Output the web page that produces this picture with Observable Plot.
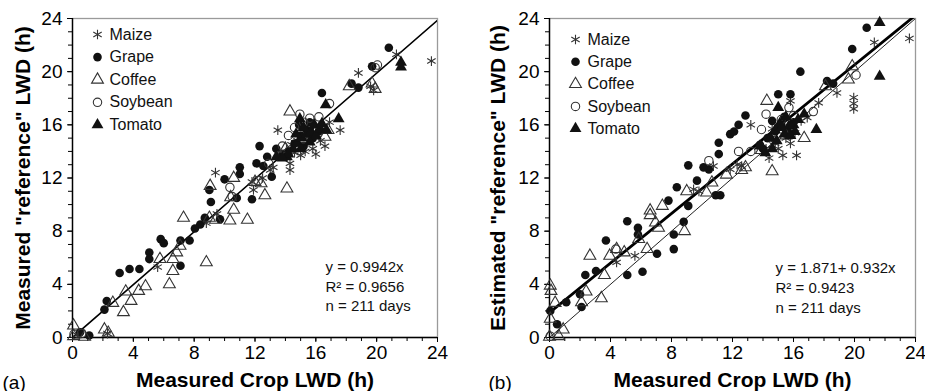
<!DOCTYPE html>
<html><head><meta charset="utf-8">
<script src="https://cdn.jsdelivr.net/npm/d3@7"></script>
<script src="https://cdn.jsdelivr.net/npm/@observablehq/plot@0.6"></script>
<style>
body{margin:0;background:#fff;}
#wrap{position:relative;width:925px;height:391px;overflow:hidden;}
#wrap svg{position:absolute;top:0;}
</style></head><body><div id="wrap"></div>
<script>
// ---------- data ----------
const crops = ["Maize", "Grape", "Coffee", "Soybean", "Tomato"];
const majorTicks = [0, 4, 8, 12, 16, 20, 24];
const minorTicks = d3.range(0, 25, 1);

// Panel (a): measured crop LWD vs measured "reference" LWD
const aMaize = [[23.6,20.8],[21.3,21.3],[18.8,19.9],[19.6,18.9],[19.8,18.6],[17.6,15.6],[16.9,16.2],[13.5,15.6],[9.4,12.4],[5.6,5.3],[14.3,12.6],[14.3,13.1],[13.2,12.8],[13.0,12.6],[16.0,13.8],[15.8,14.2],[16.6,14.4],[16.3,14.8],[15.3,14.0],[15.0,13.7],[14.6,13.9],[14.4,14.5],[11.8,11.7],[11.9,11.1],[9.5,9.3],[15.5,15.1],[16.2,15.9],[14.8,14.8],[12.5,12.0],[8.8,8.6],[2.3,0.3],[0.3,0.2]];
const aGrape = [[20.8,21.8],[19.7,20.4],[18.35,19.1],[18.8,18.8],[16.4,18.4],[12.3,14.4],[12.1,13.1],[12.55,12.9],[13.1,12.1],[13.4,14.2],[12.8,13.6],[11.0,12.8],[11.0,12.3],[10.8,10.5],[11.8,10.4],[10.0,11.9],[9.0,11.1],[9.1,10.2],[9.7,8.9],[8.7,9.0],[8.4,8.5],[8.05,8.2],[7.7,7.3],[7.1,7.3],[5.8,7.4],[6.0,7.1],[5.05,6.4],[5.05,5.9],[7.1,5.4],[3.1,4.85],[3.75,5.15],[4.4,5.15],[2.25,2.75],[2.1,2.1],[1.1,0.15],[0.5,0.4],[14.6,14.6],[15.0,15.2],[15.4,15.6],[15.8,15.0],[14.2,14.0],[13.8,13.8],[16.2,15.5],[15.2,14.4],[14.9,16.0],[15.6,16.2]];
const aCoffee = [[19.9,18.7],[19.7,19.1],[18.2,18.9],[14.3,17.0],[14.1,11.2],[16.6,15.1],[16.8,15.6],[12.65,10.7],[12.4,11.6],[11.5,8.85],[10.35,8.8],[10.6,9.6],[10.4,10.55],[10.6,12.0],[9.05,11.4],[9.4,8.85],[7.3,9.0],[8.8,5.65],[7.07,6.9],[6.85,6.4],[6.6,5.9],[6.6,5.0],[6.37,4.0],[5.75,5.9],[4.8,3.85],[4.35,3.5],[3.85,2.75],[3.5,3.45],[3.35,1.9],[2.65,2.6],[2.1,0.6],[2.35,0.35],[0.07,0.9],[0.07,0.1],[0.8,0.05],[15.2,14.9],[14.0,14.2],[9.0,9.0],[12.0,11.7]];
const aSoybean = [[20.05,20.5],[19.9,20.3],[16.9,17.6],[14.2,15.2],[15.6,16.5],[13.6,13.7],[12.9,13.1],[12.2,11.8],[10.35,11.3],[10.5,10.6],[0.1,0.25],[0.6,0.3],[14.95,16.8],[16.2,16.6],[13.8,14.4],[15.2,16.2],[14.6,15.8]];
const aTomato = [[21.6,20.7],[21.6,20.35],[16.65,17.5],[17.5,16.45],[14.95,16.45],[14.1,13.6],[13.4,13.6],[14.5,14.2],[14.8,14.6],[15.1,15.0],[15.4,15.3],[15.7,15.5],[16.0,15.2],[15.2,15.8],[15.6,14.7],[16.3,15.7],[14.2,13.8],[13.8,13.5],[16.7,15.6],[15.0,14.2],[14.7,15.3],[15.9,16.0],[16.4,16.1]];

// Panel (b): measured crop LWD vs estimated "reference" LWD
const bMaize = [[23.6,22.5],[21.3,22.2],[19.95,18.05],[19.95,17.2],[19.95,17.6],[18.85,18.4],[17.65,17.65],[16.9,16.55],[13.2,16.0],[16.2,13.7],[15.3,13.7],[14.4,13.5],[9.45,11.15],[11.85,12.65],[12.3,13.0],[5.6,6.15],[4.4,5.65],[10.75,12.9],[14.8,14.6],[15.5,15.0],[16.1,15.4],[14.2,14.2],[15.8,14.6],[15.0,14.2],[9.8,11.0],[12.6,12.9],[14.6,15.7],[16.5,16.3],[15.8,17.8]];
const bGrape = [[20.8,23.3],[19.85,21.7],[16.45,20.0],[15.0,18.3],[15.8,18.3],[18.2,19.3],[12.85,16.7],[12.4,16.0],[11.85,15.3],[12.1,15.5],[11.1,14.65],[11.1,13.8],[10.45,12.65],[10.1,12.8],[9.1,12.95],[9.67,11.8],[10.9,10.7],[11.2,10.7],[8.35,11.3],[7.8,10.3],[9.1,9.9],[8.8,8.7],[8.15,7.75],[8.15,6.65],[7.05,6.3],[5.8,8.25],[5.8,7.75],[5.1,8.75],[3.7,7.3],[3.05,5.0],[2.35,4.7],[2.0,3.25],[2.1,2.3],[1.1,2.65],[5.1,4.7],[6.1,4.95],[0.05,2.0],[0.5,1.0],[14.3,15.0],[14.8,15.5],[15.2,16.0],[15.6,15.6],[14.0,14.2],[13.8,14.5],[16.0,16.2],[15.4,16.6],[14.6,16.3],[18.6,19.1]];
const bCoffee = [[19.85,20.4],[19.6,19.4],[18.1,18.9],[14.25,17.8],[16.7,15.0],[14.6,12.5],[12.85,12.8],[12.6,12.6],[11.6,12.25],[10.65,11.65],[10.3,10.9],[7.4,9.9],[6.6,9.55],[6.6,9.2],[6.95,8.65],[7.15,8.25],[8.85,8.0],[5.85,7.4],[6.4,6.65],[2.65,6.15],[3.95,6.15],[4.4,6.65],[4.9,6.4],[3.6,4.7],[2.4,3.45],[2.1,2.65],[3.4,2.95],[0.37,2.6],[0.05,3.9],[0.1,3.5],[0.05,1.4],[0.6,0.1],[0.9,0.6],[0.0,0.05],[9.0,11.0],[15.5,15.2],[13.9,14.1]];
const bSoybean = [[20.1,19.75],[17.3,17.0],[15.7,17.3],[14.2,16.8],[13.9,15.65],[14.7,14.8],[10.45,13.3],[12.4,14.0],[13.2,14.0],[4.35,6.65],[0.05,0.1],[15.2,16.4],[16.0,16.7]];
const bTomato = [[21.65,23.7],[21.65,19.65],[17.5,15.65],[15.0,17.3],[16.7,16.8],[14.5,15.0],[14.8,15.6],[15.1,16.1],[15.4,15.3],[15.7,15.9],[16.0,16.0],[16.3,16.4],[15.2,15.8],[14.9,14.8],[15.5,16.6],[14.15,13.9],[13.8,14.4],[16.1,15.5],[15.8,15.2],[14.6,14.2]];

// fitted lines: [intercept, slope]
const aFit = [0, 0.9942];
const bFit = [1.871, 0.932];
const oneToOne = [0, 1];
const lineX = [0, 24];

const aStats = ["y = 0.9942x", "R\u00b2 = 0.9656", "n = 211 days"];
const bStats = ["y = 1.871+ 0.932x", "R\u00b2 = 0.9423", "n = 211 days"];

// ---------- styles ----------
const styleOf = {
  Maize:   {symbol: "asterisk", fill: "none", stroke: "#333", strokeWidth: 1.1, r: 4.6},
  Grape:   {symbol: "circle",   fill: "#111", stroke: "none", r: 4.3},
  Coffee:  {symbol: "triangle", fill: "none", stroke: "#333", strokeWidth: 1.1, r: 4.4},
  Soybean: {symbol: "circle",   fill: "none", stroke: "#333", strokeWidth: 1.1, r: 4.2},
  Tomato:  {symbol: "triangle", fill: "#111", stroke: "none", r: 4.4}
};

const font = "'Liberation Sans', Arial, Helvetica, sans-serif";

function fitLine(coef, opts) {
  const pts = lineX.map(x => ({x, y: coef[0] + coef[1] * x}));
  return Plot.line(pts, {x: "x", y: "y", clip: true, ...opts});
}

function panel(cfg) {
  const marks = [
    Plot.frame({stroke: "#9a9a9a", strokeWidth: 1.3}),
    Plot.axisX({ticks: minorTicks, tickSize: 4, tickFormat: () => "", label: null}),
    Plot.axisX({ticks: majorTicks, tickSize: 5, tickPadding: 3, label: null, fontSize: 19}),
    Plot.axisY({ticks: minorTicks, tickSize: 4, tickFormat: () => "", label: null}),
    Plot.axisY({ticks: majorTicks, tickSize: 5, tickPadding: 5, label: null, fontSize: 19}),
    Plot.ruleX([0], {stroke: "#000", strokeWidth: 1.4}),
    Plot.ruleY([0], {stroke: "#000", strokeWidth: 1.4}),
    ...cfg.lines,
  ];
  crops.forEach((c, i) => {
    const s = styleOf[c];
    marks.push(Plot.dot(cfg.series[i], {x: d => d[0], y: d => d[1], ...s}));
  });
  // legend
  crops.forEach((c, i) => {
    const s = styleOf[c];
    marks.push(Plot.dot([c], {frameAnchor: "top-left", dx: cfg.legDx, dy: cfg.legDy + i * cfg.legStep, ...s}));
    marks.push(Plot.text([c], {frameAnchor: "top-left", dx: cfg.legDx + 12, dy: cfg.legDy + i * cfg.legStep,
      text: d => d, textAnchor: "start", lineAnchor: "middle", fontSize: 16, fill: "#111"}));
  });
  // statistics
  cfg.stats.forEach((t, i) => {
    marks.push(Plot.text([t], {frameAnchor: "top-left", dx: cfg.statDx, dy: cfg.statDy + i * cfg.statStep,
      text: d => d, textAnchor: "start", lineAnchor: "middle", fontSize: 15, fill: "#111"}));
  });
  // titles
  marks.push(Plot.text(["Measured Crop LWD (h)"], {frameAnchor: "bottom", dy: 49, text: d => d,
    textAnchor: "middle", lineAnchor: "bottom", fontSize: 21, fontWeight: "bold", fill: "#000"}));
  marks.push(Plot.text([cfg.ytitle], {frameAnchor: "left", dx: cfg.ytDx, text: d => d, rotate: -90,
    textAnchor: "middle", lineAnchor: "middle", fontSize: 21, fontWeight: "bold", fill: "#000"}));
  marks.push(Plot.text([cfg.tag], {frameAnchor: "bottom-left", dx: cfg.tagDx, dy: 51, text: d => d,
    textAnchor: "start", lineAnchor: "bottom", fontSize: 19, fill: "#000"}));

  const svg = Plot.plot({
    width: cfg.width, height: 391,
    marginLeft: cfg.ml, marginRight: cfg.mr, marginTop: 18, marginBottom: 54,
    x: {domain: [0, 24]}, y: {domain: [0, 24]},
    style: {fontFamily: font, fontSize: "18px", color: "#000", background: "transparent"},
    marks
  });
  svg.style.left = cfg.left + "px";
  return svg;
}

const wrap = document.getElementById("wrap");
wrap.appendChild(panel({
  width: 462, left: 0, ml: 72, mr: 25,
  series: [aMaize, aGrape, aCoffee, aSoybean, aTomato],
  lines: [fitLine(aFit, {stroke: "#000", strokeWidth: 1.6})],
  ytitle: "Measured \"reference\" LWD (h)", ytDx: -49,
  tag: "(a)", tagDx: -70,
  legDx: 25, legDy: 16, legStep: 22.6,
  stats: aStats, statDx: 253, statDy: 249, statStep: 19.5
}));
wrap.appendChild(panel({
  width: 463, left: 462, ml: 87, mr: 10,
  series: [bMaize, bGrape, bCoffee, bSoybean, bTomato],
  lines: [fitLine(oneToOne, {stroke: "#222", strokeWidth: 1}), fitLine(bFit, {stroke: "#000", strokeWidth: 2.8})],
  ytitle: "Estimated \"reference\" LWD (h)", ytDx: -51,
  tag: "(b)", tagDx: -61,
  legDx: 26, legDy: 21, legStep: 22.3,
  stats: bStats, statDx: 226, statDy: 250, statStep: 20
}));
</script></body></html>
